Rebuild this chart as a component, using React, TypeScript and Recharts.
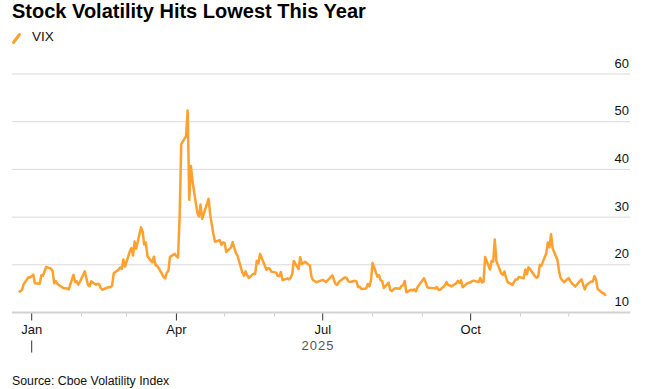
import { LineChart, Line, XAxis, YAxis, CartesianGrid } from "recharts";

const dates = [
  "2024-12-24", "2024-12-26", "2024-12-27", "2024-12-30", "2024-12-31",
  "2025-01-02", "2025-01-03", "2025-01-06", "2025-01-07", "2025-01-08", "2025-01-10", "2025-01-13", "2025-01-14", "2025-01-15", "2025-01-16",
  "2025-01-17", "2025-01-21", "2025-01-22", "2025-01-23", "2025-01-24", "2025-01-27", "2025-01-28", "2025-01-29", "2025-01-30", "2025-01-31",
  "2025-02-03", "2025-02-04", "2025-02-05", "2025-02-06", "2025-02-07", "2025-02-10", "2025-02-11", "2025-02-12", "2025-02-13", "2025-02-14",
  "2025-02-18", "2025-02-19", "2025-02-20", "2025-02-21", "2025-02-24", "2025-02-25", "2025-02-26", "2025-02-27", "2025-02-28",
  "2025-03-03", "2025-03-04", "2025-03-05", "2025-03-06", "2025-03-07", "2025-03-10", "2025-03-11", "2025-03-12", "2025-03-13", "2025-03-14",
  "2025-03-17", "2025-03-18", "2025-03-19", "2025-03-20", "2025-03-21", "2025-03-24", "2025-03-25", "2025-03-26", "2025-03-27", "2025-03-28", "2025-03-31",
  "2025-04-01", "2025-04-02", "2025-04-03", "2025-04-04", "2025-04-07", "2025-04-08", "2025-04-09", "2025-04-10", "2025-04-11", "2025-04-14",
  "2025-04-15", "2025-04-16", "2025-04-17", "2025-04-21", "2025-04-22", "2025-04-23", "2025-04-24", "2025-04-25", "2025-04-28", "2025-04-29", "2025-04-30",
  "2025-05-01", "2025-05-02", "2025-05-05", "2025-05-06", "2025-05-07", "2025-05-08", "2025-05-09", "2025-05-12", "2025-05-13", "2025-05-14",
  "2025-05-15", "2025-05-16", "2025-05-19", "2025-05-20", "2025-05-21", "2025-05-22", "2025-05-23", "2025-05-27", "2025-05-28", "2025-05-29", "2025-05-30",
  "2025-06-02", "2025-06-03", "2025-06-04", "2025-06-05", "2025-06-06", "2025-06-09", "2025-06-10", "2025-06-11", "2025-06-12", "2025-06-13",
  "2025-06-16", "2025-06-17", "2025-06-18", "2025-06-20", "2025-06-23", "2025-06-24", "2025-06-25", "2025-06-26", "2025-06-27", "2025-06-30",
  "2025-07-01", "2025-07-02", "2025-07-03", "2025-07-07", "2025-07-08", "2025-07-09", "2025-07-10", "2025-07-11", "2025-07-14", "2025-07-15", "2025-07-16",
  "2025-07-17", "2025-07-18", "2025-07-21", "2025-07-22", "2025-07-23", "2025-07-24", "2025-07-25", "2025-07-28", "2025-07-29", "2025-07-30", "2025-07-31",
  "2025-08-01", "2025-08-04", "2025-08-05", "2025-08-06", "2025-08-07", "2025-08-08", "2025-08-11", "2025-08-12", "2025-08-13", "2025-08-14", "2025-08-15",
  "2025-08-18", "2025-08-19", "2025-08-20", "2025-08-21", "2025-08-22", "2025-08-25", "2025-08-26", "2025-08-27", "2025-08-28", "2025-08-29",
  "2025-09-02", "2025-09-03", "2025-09-04", "2025-09-05", "2025-09-08", "2025-09-09", "2025-09-10", "2025-09-11", "2025-09-12", "2025-09-15",
  "2025-09-16", "2025-09-17", "2025-09-18", "2025-09-19", "2025-09-22", "2025-09-23", "2025-09-24", "2025-09-25", "2025-09-26", "2025-09-29", "2025-09-30",
  "2025-10-01", "2025-10-02", "2025-10-03", "2025-10-06", "2025-10-07", "2025-10-08", "2025-10-09", "2025-10-10", "2025-10-13", "2025-10-14", "2025-10-15",
  "2025-10-16", "2025-10-17", "2025-10-20", "2025-10-21", "2025-10-22", "2025-10-23", "2025-10-24", "2025-10-27", "2025-10-28", "2025-10-29", "2025-10-30", "2025-10-31",
  "2025-11-03", "2025-11-04", "2025-11-05", "2025-11-06", "2025-11-07", "2025-11-10", "2025-11-11", "2025-11-12", "2025-11-13", "2025-11-14",
  "2025-11-17", "2025-11-18", "2025-11-19", "2025-11-20", "2025-11-21", "2025-11-24", "2025-11-25", "2025-11-26", "2025-11-28",
  "2025-12-01", "2025-12-02", "2025-12-03", "2025-12-04", "2025-12-05", "2025-12-08", "2025-12-09", "2025-12-10", "2025-12-11", "2025-12-12",
  "2025-12-15", "2025-12-16", "2025-12-17", "2025-12-18", "2025-12-19", "2025-12-22", "2025-12-23", "2025-12-24",
];

const vix = [
  14.27, 14.73, 15.95, 17.4, 17.35,
  17.93, 16.13, 16.04, 17.82, 17.7, 19.54, 19.19, 18.71, 16.12, 16.6,
  15.97, 15.06, 15.1, 15.02, 14.85, 17.9, 16.41, 16.56, 15.84, 16.43,
  18.62, 17.21, 15.77, 15.5, 16.54, 15.81, 16.02, 15.89, 15.1, 14.77,
  15.35, 15.27, 15.66, 18.21, 18.98, 19.43, 19.1, 21.13, 19.63,
  22.78, 23.51, 21.93, 24.87, 23.37, 27.86, 26.92, 24.23, 24.66, 21.77,
  20.51, 21.7, 19.9, 19.8, 19.28, 17.48, 17.15, 18.33, 18.69, 21.65, 22.28,
  21.77, 21.51, 30.02, 45.31, 46.98, 52.33, 33.62, 40.72, 37.56, 30.89,
  30.12, 32.64, 29.65, 33.82, 30.57, 28.45, 26.47, 24.84, 25.15, 24.17, 24.7,
  24.6, 22.68, 23.64, 24.76, 23.55, 22.48, 21.9, 18.39, 17.71, 18.62,
  17.83, 17.24, 18.14, 18.09, 20.87, 20.28, 22.29, 18.96, 19.31, 19.18, 18.57,
  18.36, 17.69, 17.61, 18.48, 16.77, 17.16, 16.95, 17.26, 18.02, 20.82,
  19.11, 21.6, 20.14, 20.62, 19.83, 17.48, 16.76, 16.59, 16.32, 16.73,
  16.83, 16.64, 16.38, 17.79, 16.81, 15.94, 15.78, 16.4, 17.2, 17.38, 17.16,
  16.52, 16.41, 16.65, 16.5, 15.37, 15.39, 14.93, 15.03, 15.98, 15.48, 16.72,
  20.38, 17.52, 17.85, 16.77, 16.57, 15.15, 16.25, 14.73, 14.49, 14.83, 15.09,
  14.99, 15.57, 15.69, 16.6, 14.22, 14.79, 14.62, 14.85, 14.43, 15.36,
  17.17, 16.35, 15.3, 15.18, 15.11, 15.04, 15.35, 14.71, 14.76, 15.69,
  16.36, 15.72, 15.7, 15.45, 16.1, 16.64, 16.18, 16.74, 15.29, 16.12, 16.28,
  16.29, 16.63, 16.65, 16.37, 17.24, 16.3, 16.43, 21.66, 19.03, 20.81, 20.64,
  25.31, 20.78, 18.23, 17.87, 18.6, 17.3, 16.37, 15.79, 16.42, 16.92, 16.91, 17.44,
  17.17, 19.0, 18.01, 19.5, 19.08, 17.6, 17.28, 17.51, 20.0, 19.83,
  22.38, 24.69, 23.66, 26.42, 23.43, 21.0, 18.56, 17.19, 16.35,
  17.24, 16.59, 16.08, 15.78, 15.41, 16.66, 16.93, 15.77, 14.85, 15.74,
  16.5, 16.48, 17.62, 16.87, 14.91, 14.08, 14.0, 13.47,
];

const monthStarts = [
  "2025-01-01", "2025-02-01", "2025-03-01", "2025-04-01", "2025-05-01", "2025-06-01",
  "2025-07-01", "2025-08-01", "2025-09-01", "2025-10-01", "2025-11-01", "2025-12-01",
];
const monthLabels = ["Jan", "", "", "Apr", "", "", "Jul", "", "", "Oct", "", ""];
const yTicks = [10, 20, 30, 40, 50, 60];

const ORANGE = "#ffa02f";
const FONT = "'Liberation Sans', Arial, sans-serif";

const dayOf = (iso: string) => {
  const [y, m, d] = iso.split("-").map(Number);
  return (Date.UTC(y, m - 1, d) - Date.UTC(2025, 0, 1)) / 86400000;
};

const data = dates.map((date, i) => ({ day: dayOf(date), vix: vix[i] }));
const tickDays = monthStarts.map(dayOf);

const MonthTick = (props: any) => {
  const { x, y, payload } = props;
  const idx = tickDays.indexOf(payload.value);
  const label = monthLabels[idx] || "";
  const major = label !== "";
  return (
    <g>
      <line x1={x} x2={x} y1={y + 1} y2={y + (major ? 8 : 4)} stroke={major ? "#333" : "#ccc"} strokeWidth={1} />
      {major && (
        <text x={x} y={y + 21} textAnchor="middle" fontSize={13} fill="#111" fontFamily={FONT}>
          {label}
        </text>
      )}
      {idx === 0 && <line x1={x} x2={x} y1={y + 28} y2={y + 40} stroke="#333" strokeWidth={1} />}
    </g>
  );
};

// labels sit just above their gridline, right-aligned at the plot edge
const ValueTick = (props: any) => {
  const { y, payload } = props;
  return (
    <text x={629} y={y - 6.5} textAnchor="end" fontSize={13} fill="#111" fontFamily={FONT}>
      {payload.value}
    </text>
  );
};

export default function App() {
  return (
    <div style={{ position: "absolute", left: 0, top: 0, width: 645, height: 389, background: "#fff", fontFamily: FONT }}>
      <div style={{ position: "absolute", left: 12, top: 1.4, fontSize: 20, lineHeight: "20px", fontWeight: 700, color: "#000", whiteSpace: "nowrap" }}>
        Stock Volatility Hits Lowest This Year
      </div>
      <svg style={{ position: "absolute", left: 0, top: 0 }} width={30} height={50}>
        <line x1={13.5} y1={42.5} x2={19.5} y2={34.5} stroke={ORANGE} strokeWidth={3} strokeLinecap="round" />
      </svg>
      <div style={{ position: "absolute", left: 32, top: 30, fontSize: 13.5, lineHeight: "13.5px", color: "#111" }}>VIX</div>

      <div style={{ position: "absolute", left: 0, top: 0 }}>
        <LineChart width={645} height={389} data={data} margin={{ top: 74, right: 0, left: 12, bottom: 36.5 }}>
          <CartesianGrid horizontal vertical={false} stroke="#d9d9d9" />
          <XAxis
            dataKey="day"
            type="number"
            domain={[-12.25, 372.1]}
            ticks={tickDays}
            interval={0}
            tick={<MonthTick />}
            tickLine={false}
            tickSize={0}
            tickMargin={0}
            axisLine={{ stroke: "#d2d2d2", strokeWidth: 2 }}
            height={40}
          />
          <YAxis
            orientation="right"
            domain={[10, 60]}
            ticks={yTicks}
            interval={0}
            axisLine={false}
            tickLine={false}
            width={15}
            tick={<ValueTick />}
          />
          <Line
            type="linear"
            dataKey="vix"
            stroke={ORANGE}
            strokeWidth={2.5}
            strokeLinejoin="round"
            dot={false}
            activeDot={false}
            isAnimationActive={false}
          />
        </LineChart>
      </div>

      <div style={{ position: "absolute", left: 268, top: 338.7, width: 100, textAlign: "center", fontSize: 13, lineHeight: "13px", letterSpacing: 1, color: "#555" }}>
        2025
      </div>
      <div style={{ position: "absolute", left: 12, top: 374.6, fontSize: 12.3, lineHeight: "12.3px", color: "#111", whiteSpace: "nowrap" }}>
        Source: Cboe Volatility Index
      </div>
    </div>
  );
}
